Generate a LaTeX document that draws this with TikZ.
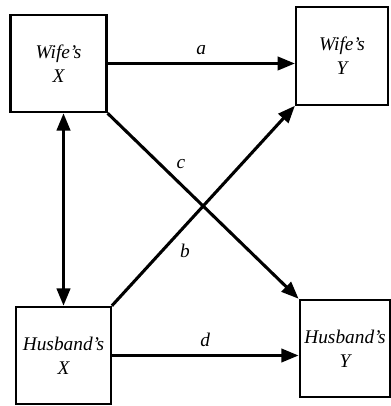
\documentclass[tikz,border=0pt]{standalone}
\usepackage{fontspec}
\setmainfont{Liberation Serif}
\usetikzlibrary{arrows.meta}

\begin{document}
\begin{tikzpicture}[x=0.75pt,y=0.75pt,
  box/.style={draw, line width=1.6pt, inner sep=0pt, align=center,
    minimum width=72pt, minimum height=73pt,
    font=\fontsize{14.5}{18}\selectfont\itshape},
  arr/.style={line width=2.3pt, -{Triangle[length=13pt,width=10pt]}},
  lbl/.style={font=\fontsize{14.5}{16}\selectfont\itshape}]

  \useasboundingbox (0,0) rectangle (390,406);

  % the four boxes
  \node[box] (wx) at (58.5,342.5) {Wife’s\\X};
  \node[box, minimum width=69pt] (wy) at (342,350) {Wife’s\\Y};
  \node[box, minimum width=71pt] (hx) at (63.5,50.5) {Husband’s\\X};
  \node[box, minimum width=68pt] (hy) at (345,57.5) {Husband’s\\Y};

  % paths
  \draw[arr] (wx.east) -- (wx.east -| wy.west)
    node[lbl, midway, above=2pt] {a};
  \draw[arr] (wx.south east) -- (hy.north west)
    node[lbl, pos=0.33, above right=0pt] {c};
  \draw[arr] (hx.north east) -- (wy.south west)
    node[lbl, pos=0.34, below right=0pt] {b};
  \draw[arr] (hx.east) -- (hx.east -| hy.west)
    node[lbl, midway, above=2pt] {d};

  % correlation between the two X's
  \draw[arr, {Triangle[length=13pt,width=10pt]}-{Triangle[length=13pt,width=10pt]}]
    (hx.north) -- (hx.north |- wx.south);

\end{tikzpicture}
\end{document}
